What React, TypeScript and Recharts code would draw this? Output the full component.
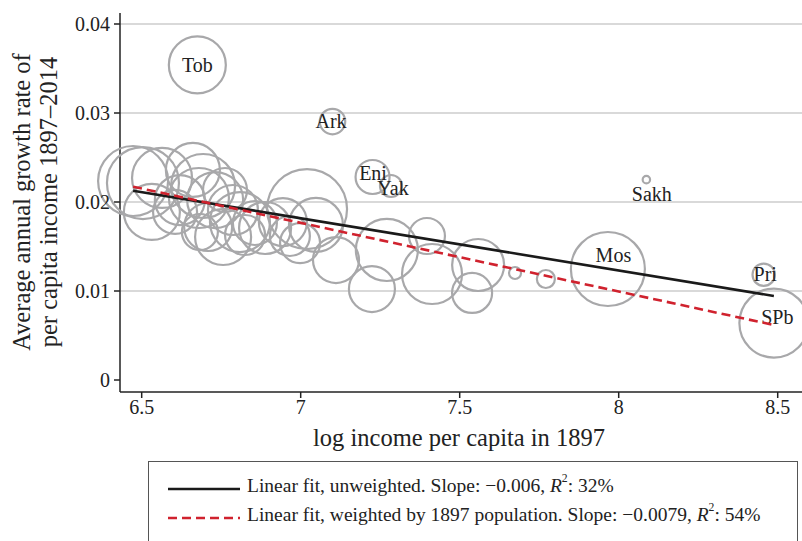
import React from 'react';
import { ScatterChart, Scatter, XAxis, YAxis, ReferenceLine } from 'recharts';

// Regions (label '' = unlabeled province)
const regionLabels = [
  'Tob', 'Ark', 'Eni', 'Yak', 'Sakh', 'Mos', 'Pri', 'SPb',
  '', '', '', '', '', '', '', '', '', '', '', '', '', '', '', '', '', '', '', '', '', '', '', '', '', '', '', '', '', '', '', '', '',
];
// log income per capita in 1897
const logIncome1897 = [
  6.675, 7.100, 7.226, 7.284, 8.087, 7.966, 8.456, 8.488,
  6.473, 6.504, 6.532, 6.564, 6.661, 6.680, 6.693, 6.709, 6.756, 6.787, 6.856, 6.888, 7.020, 7.048,
  7.111, 6.998, 7.224, 7.271, 7.397, 7.413, 7.558, 7.539, 7.674, 7.771, 6.620, 6.731, 6.809, 6.683,
  6.605, 6.944, 6.966, 6.762, 6.825, 6.904,
];
// average annual growth rate of per capita income 1897-2014
const growthRate = [
  0.0354, 0.02904, 0.02281, 0.0218, 0.02251, 0.01247, 0.01183, 0.0064,
  0.02236, 0.02213, 0.01888, 0.0227, 0.0236, 0.02045, 0.0218, 0.01719, 0.01607, 0.0191, 0.01764, 0.01708, 0.01921, 0.01742,
  0.01348, 0.01539, 0.01022, 0.01461, 0.01618, 0.01191, 0.01292, 0.00978, 0.01202, 0.01135, 0.02022, 0.02022, 0.01775, 0.01663,
  0.01888, 0.01775, 0.01618, 0.02135, 0.01629, 0.01854,
];
// 1897 population (thousands) – marker weight
const population1897 = [
  1421, 284, 506, 212, 24, 2396, 219, 2083,
  2144, 2268, 1372, 1575, 1276, 1575, 1792, 1008, 1372, 1094, 847, 1183, 2800, 1276,
  926, 700, 926, 1682, 567, 1575, 1183, 700, 63, 142, 1094, 1372, 1575, 567,
  847, 1008, 700, 847, 700, 1008,
];

// Linear fits (end points)
const fitX = [6.473, 8.488];
const fitUnweighted = [0.02127, 0.00944];
const fitWeighted = [0.02172, 0.00618];

const xTicks = [6.5, 7, 7.5, 8, 8.5];
const yTicks = [0, 0.01, 0.02, 0.03, 0.04];
const gridValues = [0.01, 0.02, 0.03, 0.04];

const provinces = regionLabels.map((name, i) => ({
  name,
  x: logIncome1897[i],
  y: growthRate[i],
  pop: population1897[i],
}));
const labeled = provinces.filter((p) => p.name !== '');
const fitA = fitX.map((x, i) => ({ x, y: fitUnweighted[i] }));
const fitB = fitX.map((x, i) => ({ x, y: fitWeighted[i] }));

const FONT = '"Liberation Serif", "Times New Roman", serif';
const INK = '#222222';

const labelOffsets: Record<string, [number, number]> = {
  Tob: [0, 7],
  Ark: [-1.5, 6.5],
  Eni: [0.5, 3],
  Yak: [2, 9],
  Sakh: [5.5, 21],
  Mos: [5.5, -7],
  Pri: [1.5, 6],
  SPb: [3.5, 1],
};

const Bubble = (props: any) => {
  const { cx, cy, payload } = props;
  if (cx == null || cy == null) return <g />;
  const r = Math.sqrt(payload.pop / 1.75);
  return <circle cx={cx} cy={cy} r={r} fill="none" stroke="#a8a8aa" strokeWidth={2.2} />;
};

const NameLabel = (props: any) => {
  const { cx, cy, payload } = props;
  if (cx == null || cy == null) return <g />;
  const o = labelOffsets[payload.name] || [0, 6];
  return (
    <text x={cx + o[0]} y={cy + o[1]} textAnchor="middle" fontFamily={FONT} fontSize={20} fill={INK}>
      {payload.name}
    </text>
  );
};

const NoDot = () => <g />;

const YTitle = () => (
  <g>
    <text
      x={29.5}
      y={202}
      transform="rotate(-90, 29.5, 202)"
      textAnchor="middle"
      fontFamily={FONT}
      fontSize={24.5}
      fill={INK}
    >
      Average annual growth rate of
    </text>
    <text
      x={57}
      y={202}
      transform="rotate(-90, 57, 202)"
      textAnchor="middle"
      fontFamily={FONT}
      fontSize={24.5}
      fill={INK}
    >
      per capita income 1897–2014
    </text>
  </g>
);

const XTitle = () => (
  <text x={459} y={446} textAnchor="middle" fontFamily={FONT} fontSize={24.5} fill={INK}>
    log income per capita in 1897
  </text>
);

const supStyle: React.CSSProperties = {
  fontSize: '0.6em',
  verticalAlign: 'top',
  lineHeight: '0',
  position: 'relative',
  top: 4,
};

export default function App() {
  return (
    <div
      style={{
        position: 'absolute',
        left: 0,
        top: 0,
        width: 802,
        height: 541,
        overflow: 'hidden',
        background: '#ffffff',
      }}
    >
      <ScatterChart width={802} height={541} margin={{ top: 13, right: 0, left: 0, bottom: 0 }}>
        <XAxis
          type="number"
          dataKey="x"
          domain={[6.4318, 8.5764]}
          ticks={xTicks}
          tickFormatter={(v: number) => String(v)}
          height={149}
          tickSize={6}
          tickMargin={2}
          tick={{ fontFamily: FONT, fontSize: 20, fill: INK }}
          tickLine={{ stroke: INK, strokeWidth: 1.5 }}
          axisLine={{ stroke: INK, strokeWidth: 1.5 }}
          label={<XTitle />}
        />
        <YAxis
          type="number"
          dataKey="y"
          domain={[-0.001348, 0.041236]}
          ticks={yTicks}
          tickFormatter={(v: number) => (v === 0 ? '0' : v.toFixed(2))}
          width={120}
          tickSize={6}
          tickMargin={4}
          tick={{ fontFamily: FONT, fontSize: 20, fill: INK }}
          tickLine={{ stroke: INK, strokeWidth: 1.5 }}
          axisLine={{ stroke: INK, strokeWidth: 1.5 }}
          label={<YTitle />}
        />
        {gridValues.map((v) => (
          <ReferenceLine key={v} y={v} stroke="#cdcdcd" strokeWidth={1.5} />
        ))}
        <Scatter data={provinces} shape={<Bubble />} isAnimationActive={false} />
        <Scatter data={labeled} shape={<NameLabel />} isAnimationActive={false} />
        <Scatter
          data={fitA}
          shape={<NoDot />}
          line={{ stroke: '#1a1a1a', strokeWidth: 2.6 }}
          isAnimationActive={false}
        />
        <Scatter
          data={fitB}
          shape={<NoDot />}
          line={{ stroke: '#d0222e', strokeWidth: 2.6, strokeDasharray: '9 5' }}
          isAnimationActive={false}
        />
      </ScatterChart>
      <div
        style={{
          position: 'absolute',
          left: 148,
          top: 461,
          width: 650,
          height: 120,
          border: '1.5px solid #555555',
          boxSizing: 'border-box',
          fontFamily: FONT,
          fontSize: 19.5,
          color: INK,
        }}
      >
        <svg style={{ position: 'absolute', left: 18, top: 20 }} width={74} height={40}>
          <line x1={1} y1={7} x2={73} y2={7} stroke="#1a1a1a" strokeWidth={2.6} />
          <line x1={1} y1={36} x2={73} y2={36} stroke="#d0222e" strokeWidth={2.6} strokeDasharray="9 5" />
        </svg>
        <div style={{ position: 'absolute', left: 98, top: 13, whiteSpace: 'nowrap', lineHeight: '22px' }}>
          Linear fit, unweighted. Slope: −0.006, <i>R</i>
          <sup style={supStyle}>2</sup>: 32%
        </div>
        <div style={{ position: 'absolute', left: 98, top: 42, whiteSpace: 'nowrap', lineHeight: '22px' }}>
          Linear fit, weighted by 1897 population. Slope: −0.0079, <i>R</i>
          <sup style={supStyle}>2</sup>: 54%
        </div>
      </div>
    </div>
  );
}
